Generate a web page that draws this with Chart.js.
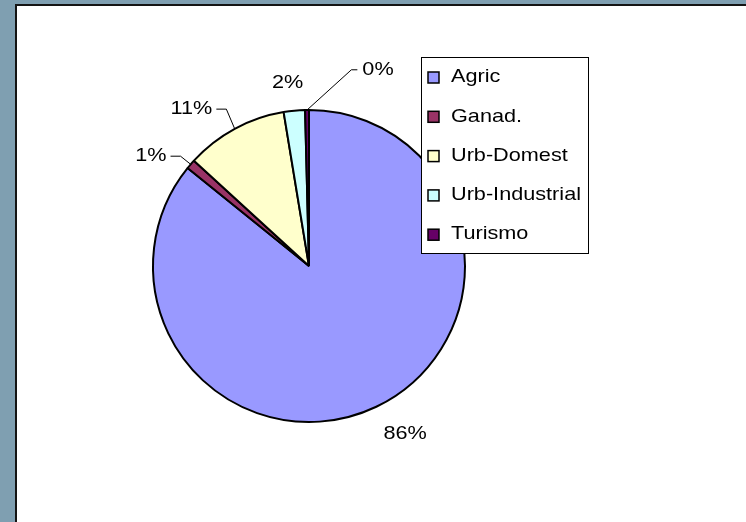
<!DOCTYPE html>
<html>
<head>
<meta charset="utf-8">
<script src="https://cdn.jsdelivr.net/npm/chart.js@4"></script>
<style>
html, body { margin: 0; padding: 0; width: 746px; height: 522px; overflow: hidden; background: #7f9fb1; }
#frame { position: absolute; left: 15px; top: 4px; right: 0; bottom: 0; background: #fff; border-left: 2px solid #141414; border-top: 2px solid #141414; }
#chart { position: absolute; left: 0; top: 0; }
</style>
</head>
<body>
<div id="frame"></div>
<canvas id="chart" width="746" height="522"></canvas>
<script>
const labels = ['Agric', 'Ganad.', 'Urb-Domest', 'Urb-Industrial', 'Turismo'];
const values = [85.8, 1.0, 10.6, 2.2, 0.4];
const colors = ['#9999ff', '#993366', '#ffffcc', '#ccffff', '#660066'];

// where each % label sits relative to its slice (deg shift, px beyond rim, leader line?)
const labelPlacement = [
	{ shift: -4.3, extra: 37, leader: false },
	{ shift: -5.9, extra: 36.5, leader: true },
	{ shift: -8.4, extra: 40, leader: true },
	{ shift: -1.3, extra: 28, leader: false },
	{ shift: 20.1, extra: 52, leader: true }
];

const FONT = '19px "Liberation Sans", Arial, sans-serif';
const textStretch = 1.14; // the original text is wider than plain Arial

function wideText(ctx, text, x, y, align){
	ctx.save();
	ctx.translate(x, y);
	ctx.scale(textStretch, 1);
	ctx.textAlign = align;
	ctx.textBaseline = 'middle';
	ctx.fillText(text, 0, 0);
	ctx.restore();
}

const pctLabels = {
	id: 'pctLabels',
	afterDatasetsDraw(chart){
		const ctx = chart.ctx;
		const data = chart.data.datasets[0].data;
		const total = data.reduce((a, b) => a + b, 0);
		ctx.save();
		ctx.font = FONT;
		ctx.fillStyle = '#000';
		ctx.strokeStyle = '#000';
		ctx.lineWidth = 1;
		chart.getDatasetMeta(0).data.forEach((arc, i) => {
			const p = arc.getProps(['x', 'y', 'startAngle', 'endAngle', 'outerRadius'], true);
			const mid = (p.startAngle + p.endAngle) / 2;
			const place = labelPlacement[i];
			const a = mid + place.shift * Math.PI / 180;
			const r = p.outerRadius + place.extra;
			const lx = p.x + r * Math.cos(a);
			const ly = p.y + r * Math.sin(a);
			const text = Math.round(data[i] / total * 100) + '%';
			wideText(ctx, text, lx, ly, 'center');
			if (place.leader) {
				const half = ctx.measureText(text).width * textStretch / 2;
				const left = lx < p.x;
				const endX = left ? lx + half + 4 : lx - half - 5;
				const kneeX = left ? endX + 10 : endX - 6;
				ctx.beginPath();
				ctx.moveTo(p.x + p.outerRadius * Math.cos(mid), p.y + p.outerRadius * Math.sin(mid));
				ctx.lineTo(kneeX, ly);
				ctx.lineTo(endX, ly);
				ctx.stroke();
			}
		});
		ctx.restore();
	}
};

const boxLegend = {
	id: 'boxLegend',
	afterDraw(chart){
		const ctx = chart.ctx;
		const ds = chart.data.datasets[0];
		ctx.save();
		ctx.fillStyle = '#fff';
		ctx.fillRect(421, 57, 167, 196);
		ctx.strokeStyle = '#000';
		ctx.lineWidth = 1;
		ctx.strokeRect(421.5, 57.5, 167, 196);
		ctx.font = FONT;
		chart.data.labels.forEach((lab, i) => {
			const y = 77 + i * 39.3;
			ctx.fillStyle = ds.backgroundColor[i];
			ctx.fillRect(428, y - 5, 11, 11);
			ctx.strokeStyle = '#000';
			ctx.lineWidth = 1.5;
			ctx.strokeRect(428, y - 5, 11, 11);
			ctx.fillStyle = '#000';
			wideText(ctx, lab, 451, y, 'left');
		});
		ctx.restore();
	}
};

new Chart(document.getElementById('chart'), {
	type: 'pie',
	data: {
		labels: labels,
		datasets: [{
			data: values,
			backgroundColor: colors,
			borderColor: '#000',
			borderWidth: 2
		}]
	},
	options: {
		responsive: false,
		animation: false,
		radius: 156,
		layout: { padding: { left: 0, right: 128, top: 10, bottom: 0 } },
		plugins: { legend: { display: false }, tooltip: { enabled: false } }
	},
	plugins: [pctLabels, boxLegend]
});
</script>
</body>
</html>
